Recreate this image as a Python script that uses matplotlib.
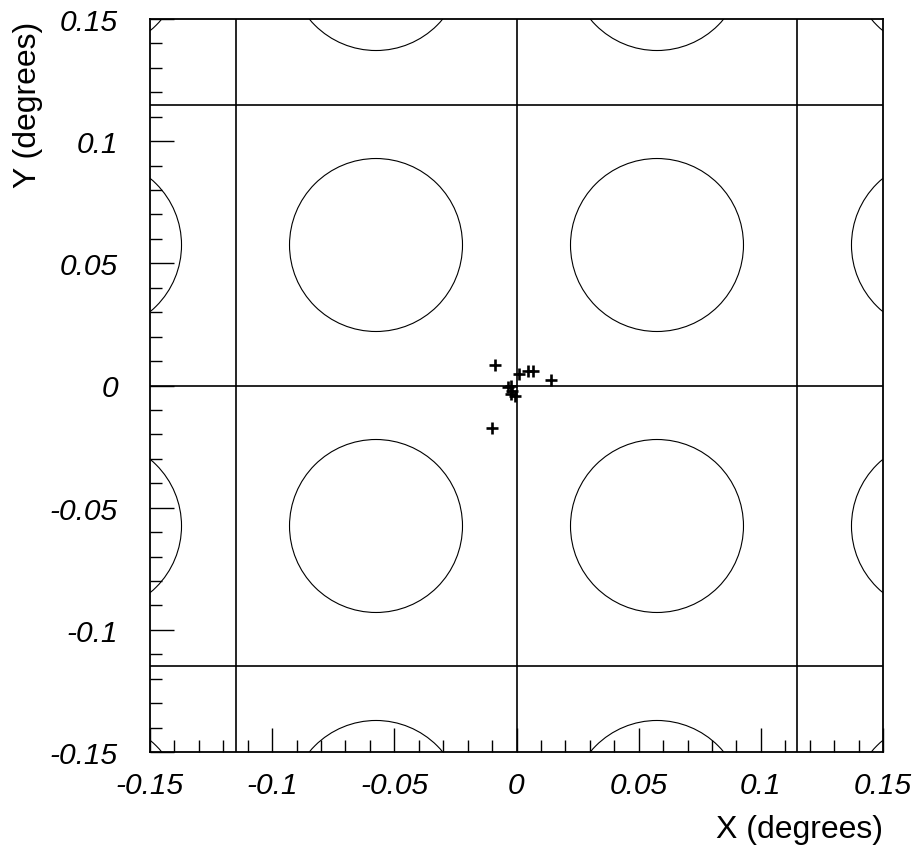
import matplotlib
matplotlib.use('Agg')
import matplotlib.pyplot as plt
from matplotlib.patches import Circle
from matplotlib.ticker import MultipleLocator

plt.rcParams['font.family'] = ['Liberation Sans', 'DejaVu Sans']

# pointing offsets (degrees)
pointsX = [-0.0088, 0.0011, 0.0046, 0.0069, 0.0140, -0.0034, -0.0024,
           -0.0020, -0.0006, -0.0024, -0.0099]
pointsY = [0.0085, 0.0047, 0.0058, 0.0058, 0.0023, -0.0007, 0.0000,
           -0.0021, -0.0042, -0.0035, -0.0175]

# camera layout: pixel centres and module boundaries
circleCentres = [-0.1725, -0.0575, 0.0575, 0.1725]
circleRadius = 0.0354
boundaries = [-0.115, 0.0, 0.115]
tickValues = [-0.15, -0.1, -0.05, 0, 0.05, 0.1, 0.15]
tickLabels = ['-0.15', '-0.1', '-0.05', '0', '0.05', '0.1', '0.15']

fig = plt.figure(figsize=(9.21, 8.53), dpi=100)
ax = fig.add_axes([150 / 921, 100 / 853, 733 / 921, 733 / 853])

for cx in circleCentres:
    for cy in circleCentres:
        ax.add_patch(Circle((cx, cy), circleRadius, fill=False, edgecolor='black', linewidth=0.8))

for b in boundaries:
    ax.axvline(b, color='black', linewidth=1.2)
    ax.axhline(b, color='black', linewidth=1.2)

ax.plot(pointsX, pointsY, linestyle='none', marker='+', color='black',
        markersize=9, markeredgewidth=1.9)

ax.set_xlim(-0.15, 0.15)
ax.set_ylim(-0.15, 0.15)

ax.set_xticks(tickValues)
ax.set_yticks(tickValues)
ax.set_xticklabels(tickLabels, fontstyle='italic', fontsize=21.5)
ax.set_yticklabels(tickLabels, fontstyle='italic', fontsize=21.5)
ax.xaxis.set_minor_locator(MultipleLocator(0.01))
ax.yaxis.set_minor_locator(MultipleLocator(0.01))

ax.tick_params(which='both', direction='in', top=False, right=False, color='black')
ax.tick_params(which='major', length=17, width=1.0)
ax.tick_params(which='minor', length=8.5, width=1.0)
ax.tick_params(axis='x', which='major', pad=14)
ax.tick_params(axis='y', which='major', pad=23)

for sp in ax.spines.values():
    sp.set_linewidth(1.3)

ax.set_xlabel('X (degrees)', fontsize=23)
ax.xaxis.set_label_coords(1.0, -0.105)
ax.xaxis.label.set_horizontalalignment('right')
ax.xaxis.label.set_verticalalignment('center')
ax.set_ylabel('Y (degrees)', fontsize=23)
ax.yaxis.set_label_coords(-0.167, 0.998)
ax.yaxis.label.set_verticalalignment('center')
ax.yaxis.label.set_horizontalalignment('right')

fig.savefig('out.png', dpi=100)
